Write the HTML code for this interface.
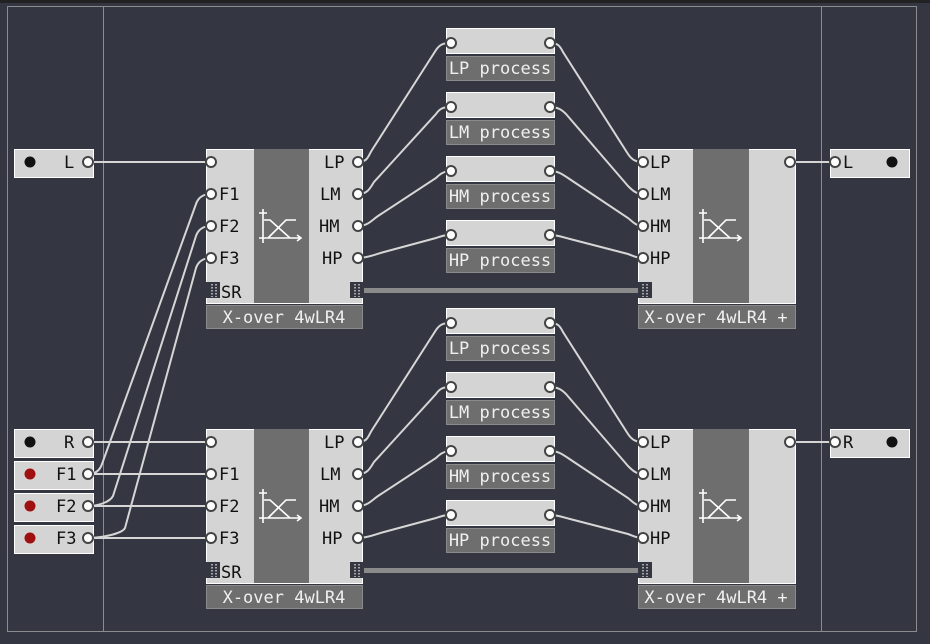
<!DOCTYPE html>
<html><head><meta charset="utf-8"><style>
html,body{margin:0;padding:0;background:#343741;}
svg{display:block}
text{font-family:"DejaVu Sans Mono","Liberation Mono",monospace;font-size:17px}
.lt{fill:#d4d4d4;stroke:#fff;stroke-width:1}
.dk{fill:#6e6e6e}
.lbl{fill:#6e6e6e;stroke:#8a8a8a;stroke-width:1}
.w{fill:none;stroke:#d6d6d6;stroke-width:2}
.p{fill:#fff;stroke:#444;stroke-width:2}
.bt{fill:#111}
.wt{fill:#f0f0f0}
.ic{stroke:#fff;stroke-width:1.6;fill:none}
.dt{stroke:#ccc;stroke-width:1.5;stroke-dasharray:1.5 1.5;fill:none}
</style></head><body>
<svg width="930" height="644" viewBox="0 0 930 644">
<rect x="0" y="0" width="930" height="3" fill="#222"/>
<rect x="7.5" y="6.5" width="909" height="625" fill="none" stroke="#8c8c8c"/>
<line x1="103.5" y1="7" x2="103.5" y2="631" stroke="#8c8c8c"/>
<line x1="821.5" y1="7" x2="821.5" y2="631" stroke="#8c8c8c"/>

<path class="w" d="M88 474 C96 474,100 470,102 464 L196 204 C198 198,203 194,211 194"/>
<path class="w" d="M88 506 C98 506,110 502,113 496 L196 236 C198 230,203 226,211 226"/>
<path class="w" d="M88 538 C100 538,122 534,125 528 L196 268 C198 262,203 258,211 258"/>
<path class="w" d="M88 162 H211"/>
<path class="w" d="M88 442 H211"/>
<path class="w" d="M88 474 H211"/>
<path class="w" d="M88 506 H211"/>
<path class="w" d="M88 538 H211"/>

<g>
<path class="w" d="M358 162 C368 162,368 156,372 150 L436 50 C440 44,444 43,451 43"/>
<path class="w" d="M358 194 C368 194,370 188,374 182 L436 114 C440 108,444 107,451 107"/>
<path class="w" d="M358 226 C368 226,372 220,378 216 L436 178 C440 174,444 171,451 171"/>
<path class="w" d="M358 258 C368 258,376 254,384 252 L436 238 C442 236,444 235,451 235"/>
<path class="w" d="M550 43 C558 43,560 46,563 52 L628 154 C632 160,636 162,643 162"/>
<path class="w" d="M550 107 C558 107,562 110,566 114 L628 186 C632 190,636 194,643 194"/>
<path class="w" d="M550 171 C558 171,562 174,568 178 L628 218 C633 222,636 226,643 226"/>
<path class="w" d="M550 235 C558 235,562 237,570 239 L628 254 C634 256,636 258,643 258"/>
<path class="w" d="M790 162 H835"/>
<rect x="364" y="288" width="275" height="5" fill="#8a8a8a"/>

<rect class="lt" x="14.5" y="149.5" width="79" height="28"/>
<circle cx="30" cy="162" r="5.5" class="bt"/>
<text x="64" y="168" class="bt">L</text>
<circle class="p" cx="88" cy="162" r="5"/>

<rect class="lt" x="206.5" y="149.5" width="156" height="154"/>
<rect class="dk" x="254" y="149" width="55" height="154"/>
<rect x="206" y="282" width="14" height="16" fill="#343741"/><path class="dt" d="M212 284V297M216 284V297"/>
<rect x="350" y="282" width="14" height="16" fill="#343741"/><path class="dt" d="M355 284V297M359 284V297"/>
<text x="221" y="298" class="bt">SR</text>
<text x="219" y="200" class="bt">F1</text>
<text x="219" y="232" class="bt">F2</text>
<text x="219" y="264" class="bt">F3</text>
<text x="324" y="168" class="bt">LP</text>
<text x="320" y="200" class="bt">LM</text>
<text x="319" y="232" class="bt">HM</text>
<text x="322" y="264" class="bt">HP</text>
<circle class="p" cx="211" cy="162" r="5"/><circle class="p" cx="211" cy="194" r="5"/><circle class="p" cx="211" cy="226" r="5"/><circle class="p" cx="211" cy="258" r="5"/>
<circle class="p" cx="358" cy="162" r="5"/><circle class="p" cx="358" cy="194" r="5"/><circle class="p" cx="358" cy="226" r="5"/><circle class="p" cx="358" cy="258" r="5"/>
<path class="ic" d="M263 209V243M259 213H267M259 238H301M297 235L301 238L297 241M264 220H270L290 238M268 238L286 220H296"/>
<rect class="lbl" x="206.5" y="305.5" width="156" height="23"/>
<text x="284" y="323" class="wt" text-anchor="middle">X-over 4wLR4</text>

<rect class="lt" x="446.5" y="28.5" width="108" height="25"/><rect class="lbl" x="446.5" y="56.5" width="108" height="24"/><text x="500" y="74" class="wt" text-anchor="middle">LP process</text>
<circle class="p" cx="451" cy="43" r="5"/><circle class="p" cx="550" cy="43" r="5"/>
<rect class="lt" x="446.5" y="92.5" width="108" height="25"/><rect class="lbl" x="446.5" y="120.5" width="108" height="24"/><text x="500" y="138" class="wt" text-anchor="middle">LM process</text>
<circle class="p" cx="451" cy="107" r="5"/><circle class="p" cx="550" cy="107" r="5"/>
<rect class="lt" x="446.5" y="156.5" width="108" height="25"/><rect class="lbl" x="446.5" y="184.5" width="108" height="24"/><text x="500" y="202" class="wt" text-anchor="middle">HM process</text>
<circle class="p" cx="451" cy="171" r="5"/><circle class="p" cx="550" cy="171" r="5"/>
<rect class="lt" x="446.5" y="220.5" width="108" height="25"/><rect class="lbl" x="446.5" y="248.5" width="108" height="24"/><text x="500" y="266" class="wt" text-anchor="middle">HP process</text>
<circle class="p" cx="451" cy="235" r="5"/><circle class="p" cx="550" cy="235" r="5"/>

<rect class="lt" x="638.5" y="149.5" width="157" height="154"/>
<rect class="dk" x="693" y="149" width="56" height="154"/>
<rect x="638" y="282" width="14" height="16" fill="#343741"/><path class="dt" d="M643 284V297M647 284V297"/>
<text x="650" y="168" class="bt">LP</text>
<text x="650" y="200" class="bt">LM</text>
<text x="650" y="232" class="bt">HM</text>
<text x="650" y="264" class="bt">HP</text>
<circle class="p" cx="643" cy="162" r="5"/><circle class="p" cx="643" cy="194" r="5"/><circle class="p" cx="643" cy="226" r="5"/><circle class="p" cx="643" cy="258" r="5"/>
<circle class="p" cx="790" cy="162" r="5"/>
<path class="ic" d="M703 209V243M699 213H707M699 238H741M737 235L741 238L737 241M704 220H710L730 238M708 238L726 220H736"/>
<rect class="lbl" x="638.5" y="305.5" width="157" height="23"/>
<text x="716" y="323" class="wt" text-anchor="middle">X-over 4wLR4 +</text>

<rect class="lt" x="830.5" y="149.5" width="79" height="28"/>
<circle cx="892" cy="162" r="5.5" class="bt"/>
<text x="843" y="168" class="bt">L</text>
<circle class="p" cx="835" cy="162" r="5"/>
</g>

<g transform="translate(0,280)">
<path class="w" d="M358 162 C368 162,368 156,372 150 L436 50 C440 44,444 43,451 43"/>
<path class="w" d="M358 194 C368 194,370 188,374 182 L436 114 C440 108,444 107,451 107"/>
<path class="w" d="M358 226 C368 226,372 220,378 216 L436 178 C440 174,444 171,451 171"/>
<path class="w" d="M358 258 C368 258,376 254,384 252 L436 238 C442 236,444 235,451 235"/>
<path class="w" d="M550 43 C558 43,560 46,563 52 L628 154 C632 160,636 162,643 162"/>
<path class="w" d="M550 107 C558 107,562 110,566 114 L628 186 C632 190,636 194,643 194"/>
<path class="w" d="M550 171 C558 171,562 174,568 178 L628 218 C633 222,636 226,643 226"/>
<path class="w" d="M550 235 C558 235,562 237,570 239 L628 254 C634 256,636 258,643 258"/>
<path class="w" d="M790 162 H835"/>
<rect x="364" y="288" width="275" height="5" fill="#8a8a8a"/>

<rect class="lt" x="14.5" y="149.5" width="79" height="28"/>
<circle cx="30" cy="162" r="5.5" class="bt"/>
<text x="64" y="168" class="bt">R</text>
<circle class="p" cx="88" cy="162" r="5"/>
<rect class="lt" x="14.5" y="181.5" width="79" height="28"/><circle cx="30" cy="194" r="5.5" fill="#a01010"/><text x="56" y="200" class="bt">F1</text><circle class="p" cx="88" cy="194" r="5"/>
<rect class="lt" x="14.5" y="213.5" width="79" height="28"/><circle cx="30" cy="226" r="5.5" fill="#a01010"/><text x="56" y="232" class="bt">F2</text><circle class="p" cx="88" cy="226" r="5"/>
<rect class="lt" x="14.5" y="245.5" width="79" height="28"/><circle cx="30" cy="258" r="5.5" fill="#a01010"/><text x="56" y="264" class="bt">F3</text><circle class="p" cx="88" cy="258" r="5"/>

<rect class="lt" x="206.5" y="149.5" width="156" height="154"/>
<rect class="dk" x="254" y="149" width="55" height="154"/>
<rect x="206" y="282" width="14" height="16" fill="#343741"/><path class="dt" d="M212 284V297M216 284V297"/>
<rect x="350" y="282" width="14" height="16" fill="#343741"/><path class="dt" d="M355 284V297M359 284V297"/>
<text x="221" y="298" class="bt">SR</text>
<text x="219" y="200" class="bt">F1</text>
<text x="219" y="232" class="bt">F2</text>
<text x="219" y="264" class="bt">F3</text>
<text x="324" y="168" class="bt">LP</text>
<text x="320" y="200" class="bt">LM</text>
<text x="319" y="232" class="bt">HM</text>
<text x="322" y="264" class="bt">HP</text>
<circle class="p" cx="211" cy="162" r="5"/><circle class="p" cx="211" cy="194" r="5"/><circle class="p" cx="211" cy="226" r="5"/><circle class="p" cx="211" cy="258" r="5"/>
<circle class="p" cx="358" cy="162" r="5"/><circle class="p" cx="358" cy="194" r="5"/><circle class="p" cx="358" cy="226" r="5"/><circle class="p" cx="358" cy="258" r="5"/>
<path class="ic" d="M263 209V243M259 213H267M259 238H301M297 235L301 238L297 241M264 220H270L290 238M268 238L286 220H296"/>
<rect class="lbl" x="206.5" y="305.5" width="156" height="23"/>
<text x="284" y="323" class="wt" text-anchor="middle">X-over 4wLR4</text>

<rect class="lt" x="446.5" y="28.5" width="108" height="25"/><rect class="lbl" x="446.5" y="56.5" width="108" height="24"/><text x="500" y="74" class="wt" text-anchor="middle">LP process</text>
<circle class="p" cx="451" cy="43" r="5"/><circle class="p" cx="550" cy="43" r="5"/>
<rect class="lt" x="446.5" y="92.5" width="108" height="25"/><rect class="lbl" x="446.5" y="120.5" width="108" height="24"/><text x="500" y="138" class="wt" text-anchor="middle">LM process</text>
<circle class="p" cx="451" cy="107" r="5"/><circle class="p" cx="550" cy="107" r="5"/>
<rect class="lt" x="446.5" y="156.5" width="108" height="25"/><rect class="lbl" x="446.5" y="184.5" width="108" height="24"/><text x="500" y="202" class="wt" text-anchor="middle">HM process</text>
<circle class="p" cx="451" cy="171" r="5"/><circle class="p" cx="550" cy="171" r="5"/>
<rect class="lt" x="446.5" y="220.5" width="108" height="25"/><rect class="lbl" x="446.5" y="248.5" width="108" height="24"/><text x="500" y="266" class="wt" text-anchor="middle">HP process</text>
<circle class="p" cx="451" cy="235" r="5"/><circle class="p" cx="550" cy="235" r="5"/>

<rect class="lt" x="638.5" y="149.5" width="157" height="154"/>
<rect class="dk" x="693" y="149" width="56" height="154"/>
<rect x="638" y="282" width="14" height="16" fill="#343741"/><path class="dt" d="M643 284V297M647 284V297"/>
<text x="650" y="168" class="bt">LP</text>
<text x="650" y="200" class="bt">LM</text>
<text x="650" y="232" class="bt">HM</text>
<text x="650" y="264" class="bt">HP</text>
<circle class="p" cx="643" cy="162" r="5"/><circle class="p" cx="643" cy="194" r="5"/><circle class="p" cx="643" cy="226" r="5"/><circle class="p" cx="643" cy="258" r="5"/>
<circle class="p" cx="790" cy="162" r="5"/>
<path class="ic" d="M703 209V243M699 213H707M699 238H741M737 235L741 238L737 241M704 220H710L730 238M708 238L726 220H736"/>
<rect class="lbl" x="638.5" y="305.5" width="157" height="23"/>
<text x="716" y="323" class="wt" text-anchor="middle">X-over 4wLR4 +</text>

<rect class="lt" x="830.5" y="149.5" width="79" height="28"/>
<circle cx="892" cy="162" r="5.5" class="bt"/>
<text x="843" y="168" class="bt">R</text>
<circle class="p" cx="835" cy="162" r="5"/>
</g>
</svg>
</body></html>
